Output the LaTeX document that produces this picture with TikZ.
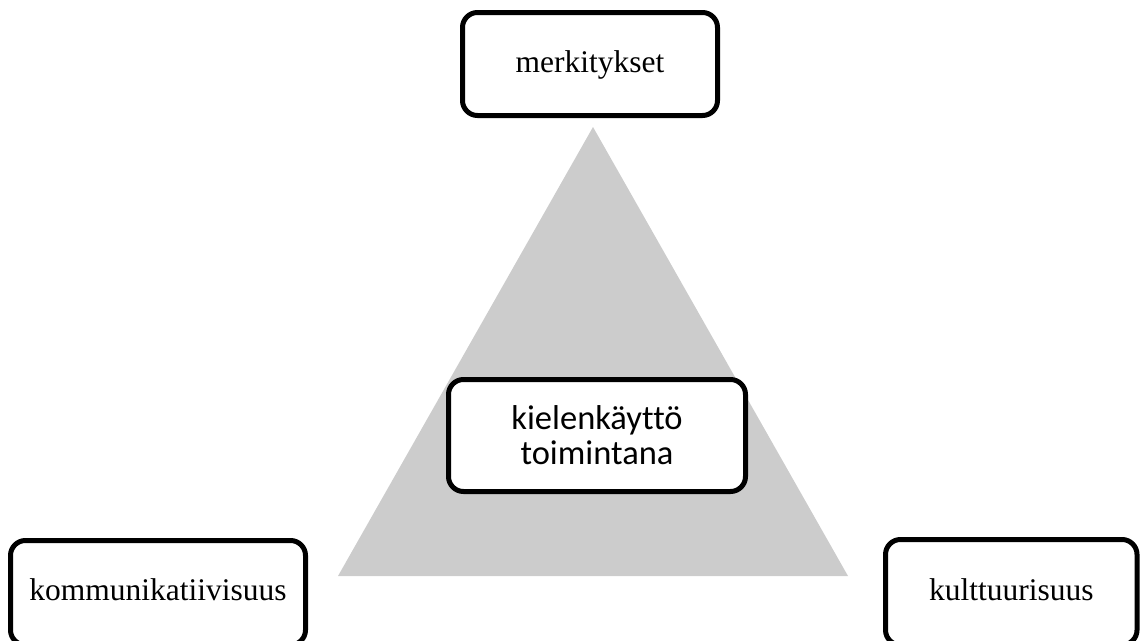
\documentclass[tikz,border=0pt]{standalone}
\usepackage{fontspec}
\setmainfont{Liberation Serif}
\newfontfamily\calib[RawFeature={-liga}]{Carlito}
\definecolor{trigray}{RGB}{204,204,204}
\begin{document}
\begin{tikzpicture}[x=1pt,y=-1pt,
  box/.style={draw=black, line width=5pt, rounded corners=15pt, fill=white,
    inner sep=0pt, outer sep=0pt, text height=22pt, text depth=6pt,
    font=\fontsize{31.5}{37}\selectfont},
  midbox/.style={draw=black, line width=5pt, rounded corners=15pt, fill=white,
    inner sep=0pt, outer sep=0pt, align=center,
    font=\calib\fontsize{34.5}{35}\selectfont}]
\useasboundingbox (0,0) rectangle (1140,640);
\clip (0,0) rectangle (1140,640);
\coordinate (apex) at (593,127);
\coordinate (bl) at (338,576);
\coordinate (br) at (848,576);
\fill[trigray] (apex) -- (bl) -- (br) -- cycle;
\node[box, minimum width=255pt, minimum height=103pt] (top) at (590,64) {merkitykset};
\node[midbox, minimum width=297pt, minimum height=112pt] (mid) at (597,435.5) {kielenkäyttö\\toimintana};
\node[box, minimum width=295pt, minimum height=104.5pt] (left) at (158,592.75) {kommunikatiivisuus};
\node[box, minimum width=251.5pt, minimum height=105.5pt] (right) at (1011.25,592.25) {kulttuurisuus};
\end{tikzpicture}
\end{document}
